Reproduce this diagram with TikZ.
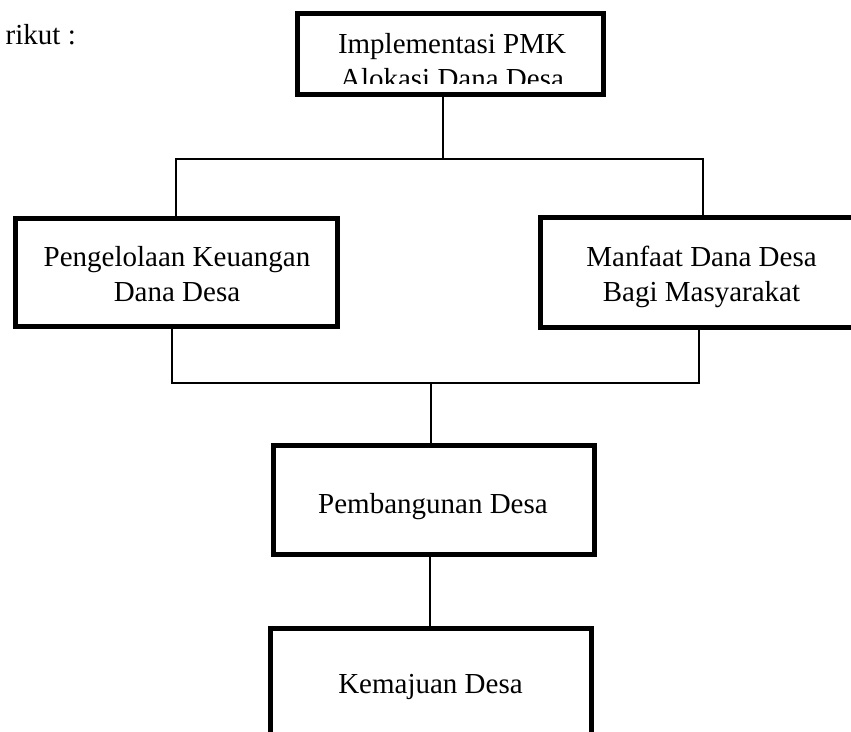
\documentclass[tikz,border=0pt]{standalone}
\usepackage{fontspec}
\setmainfont{Liberation Serif}
\begin{document}
\begin{tikzpicture}[x=1pt,y=-1pt,
  box/.style={draw=black, line width=5pt, inner sep=0pt, minimum width=322pt, minimum height=108pt},
  txt/.style={font=\fontsize{29}{35}\selectfont, align=center, inner sep=0pt, anchor=base, text=black},
  link/.style={line width=2pt, draw=black}]
\useasboundingbox (0,0) rectangle (851,731);
\clip (0,0) rectangle (851,731);
\fill[white] (0,0) rectangle (851,731);

% intro text (cut at left edge)
\node (intro) [txt, anchor=base east] at (76,44) {rikut :};

% boxes
\node (impl)  [box, minimum width=306pt, minimum height=81pt] at (450.5,54) {};
\node (peng)  [box, minimum width=322pt, minimum height=108pt] at (176.5,272.5) {};
\node (manf)  [box, minimum width=322pt, minimum height=110pt] at (701.5,272.5) {};
\node (pemb)  [box, minimum width=321pt, minimum height=109pt] at (434,500) {};
\node (kemaj) [box, minimum width=321pt, minimum height=109pt] at (431,683) {};

% texts (anchor base = baseline of the last line)
\begin{scope}
  \clip (298,14) rectangle (603,83);
  \node (impltxt) [txt] at (452,88) {Implementasi PMK\\Alokasi Dana Desa};
\end{scope}
\node (pengtxt)  [txt] at (177,301)   {Pengelolaan Keuangan\\Dana Desa};
\node (manftxt)  [txt] at (701.5,301) {Manfaat Dana Desa\\Bagi Masyarakat};
\node (pembtxt)  [txt] at (433,513)   {Pembangunan Desa};
\node (kemajtxt) [txt] at (430.5,693) {Kemajuan Desa};

% junction coordinates
\coordinate (jtop) at (443,159);
\coordinate (jl)   at (176,159);
\coordinate (jr)   at (703,159);
\coordinate (jbl)  at (172,383);
\coordinate (jbr)  at (699,383);
\coordinate (jbm)  at (431,383);
\coordinate (jlow) at (430,590);

% connectors
\draw[link] (jtop |- impl.south) -- (jtop);
\draw[link] (jl |- peng.north) -- (jl) -- (jr) -- (jr |- manf.north);
\draw[link] (jbl |- peng.south) -- (jbl) -- (jbr) -- (jbr |- manf.south);
\draw[link] (jbm) -- (jbm |- pemb.north);
\draw[link] (jlow |- pemb.south) -- (jlow |- kemaj.north);
\end{tikzpicture}
\end{document}
